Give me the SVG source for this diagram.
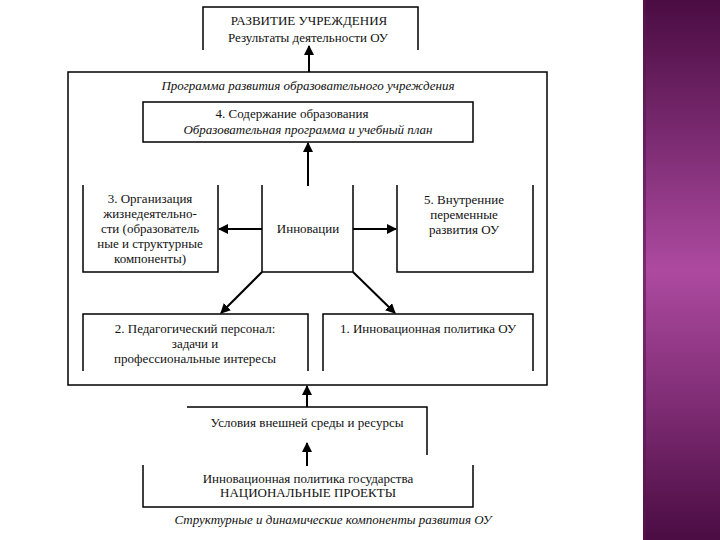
<svg xmlns="http://www.w3.org/2000/svg" width="720" height="540" viewBox="0 0 720 540">
<defs>
<linearGradient id="band" x1="0" y1="0" x2="0" y2="1">
<stop offset="0" stop-color="#4a0c42"/>
<stop offset="0.25" stop-color="#7a2a70"/>
<stop offset="0.5" stop-color="#ad4aa0"/>
<stop offset="0.75" stop-color="#7f2c74"/>
<stop offset="1" stop-color="#4a0c42"/>
</linearGradient>
<marker id="ah" viewBox="0 0 10 10" refX="9" refY="5" markerWidth="10" markerHeight="10" markerUnits="userSpaceOnUse" orient="auto">
<path d="M0,0 L10,5 L0,10 z" fill="#000"/>
</marker>
<style>
.t{font-family:'Liberation Serif','DejaVu Serif','Times New Roman',serif;font-size:13px;fill:#111;text-anchor:middle}
.i{font-style:italic}
.b{fill:none;stroke:#000;stroke-width:1.5}
.a{fill:none;stroke:#000;stroke-width:2;marker-end:url(#ah)}
</style>
</defs>
<rect width="720" height="540" fill="#fff"/>
<rect x="643" y="0" width="77" height="540" fill="url(#band)"/>
<rect x="643" y="0" width="3" height="540" fill="#5a1550" opacity="0.6"/>

<g id="top">
<path class="b" d="M203,50 V7 H418 V50"/>
<text class="t" x="309" y="25">РАЗВИТИЕ УЧРЕЖДЕНИЯ</text>
<text class="t" x="308" y="42">Результаты деятельности ОУ</text>
</g>

<g id="frame">
<rect class="b" x="68" y="72" width="479" height="313"/>
<text class="t i" x="308" y="90">Программа развития образовательного учреждения</text>
</g>

<g id="n4">
<rect class="b" x="143" y="102" width="330" height="40"/>
<text class="t" x="292" y="118">4. Содержание образования</text>
<text class="t i" x="308" y="134">Образовательная программа и учебный план</text>
</g>

<g id="innov">
<path class="b" d="M262,185 V272 H353 V185"/>
<text class="t" x="308" y="233">Инновации</text>
</g>

<g id="n3">
<path class="b" d="M83,185 V272 H218 V185"/>
<text class="t" x="150" y="203">3. Организация</text>
<text class="t" x="150" y="218">жизнедеятельно-</text>
<text class="t" x="150" y="233">сти (образователь</text>
<text class="t" x="150" y="248">ные и структурные</text>
<text class="t" x="150" y="263">компоненты)</text>
</g>

<g id="n5">
<path class="b" d="M397,185 V272 H533 V185"/>
<text class="t" x="464" y="204">5. Внутренние</text>
<text class="t" x="464" y="219">переменные</text>
<text class="t" x="464" y="234">развития ОУ</text>
</g>

<g id="n2">
<path class="b" d="M83,371 V314 H308 V371"/>
<text class="t" x="195" y="333">2. Педагогический персонал:</text>
<text class="t" x="195" y="348">задачи и</text>
<text class="t" x="195" y="363">профессиональные интересы</text>
</g>

<g id="n1">
<path class="b" d="M323,371 V314 H533 V371"/>
<text class="t" x="428" y="333">1. Инновационная политика ОУ</text>
</g>

<g id="env">
<path class="b" d="M187,407 H427 V455"/>
<text class="t" x="307" y="427">Условия внешней среды и ресурсы</text>
</g>

<g id="state">
<path class="b" d="M143,465 V507 H473 V465"/>
<text class="t" x="308" y="483">Инновационная политика государства</text>
<text class="t" x="308" y="497">НАЦИОНАЛЬНЫЕ ПРОЕКТЫ</text>
</g>

<text class="t i" x="333" y="524">Структурные и динамические компоненты развития ОУ</text>

<g id="connectors">
<line class="a" x1="309" y1="72" x2="309" y2="46"/>
<line class="a" x1="308" y1="186" x2="308" y2="143"/>
<line class="a" x1="262" y1="229" x2="219" y2="229"/>
<line class="a" x1="353" y1="229" x2="396" y2="229"/>
<line class="a" x1="262" y1="272" x2="221" y2="313"/>
<line class="a" x1="353" y1="272" x2="395" y2="313"/>
<line class="a" x1="307" y1="407" x2="307" y2="386"/>
<line class="a" x1="307" y1="466" x2="307" y2="443"/>
</g>
</svg>
